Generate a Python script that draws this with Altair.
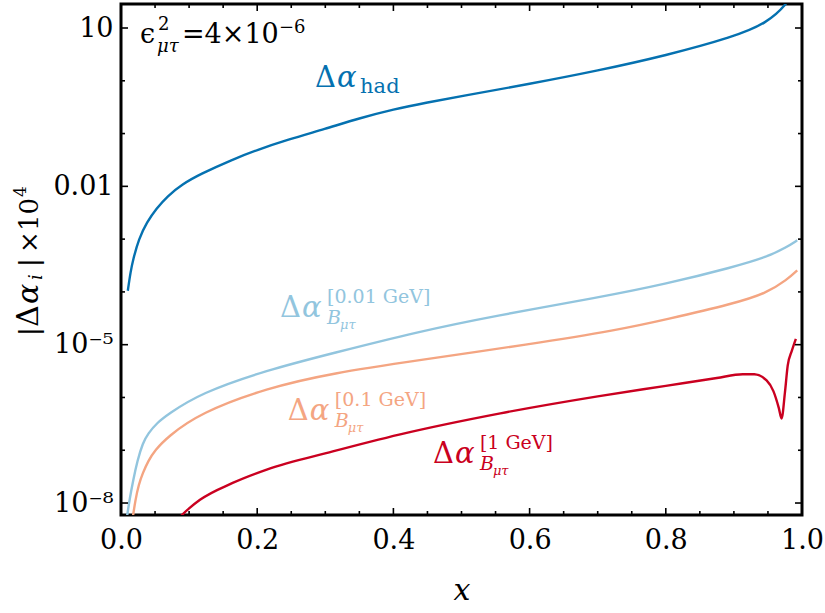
import altair as alt
import pandas as pd

# ---------------- data ----------------
series_names = ["had", "0.01 GeV", "0.1 GeV", "1 GeV"]
series_colors = ["#0571b0", "#92c5de", "#f4a582", "#ca0020"]

x_had = [0.010, 0.014, 0.018, 0.026, 0.038, 0.052, 0.068, 0.090, 0.116, 0.164, 0.200, 0.244,
         0.300, 0.350, 0.400, 0.450, 0.500, 0.600, 0.700, 0.800, 0.900, 0.948, 0.978, 0.990]
y_had = [1.05e-4, 2.4e-4, 4.2e-4, 1.0e-3, 2.1e-3, 3.8e-3, 6.5e-3, 0.011, 0.017, 0.0324, 0.049,
         0.076, 0.123, 0.195, 0.288, 0.39, 0.513, 0.87, 1.55, 3.0, 6.8, 12.3, 28.2, 56.0]

x_b001 = [0.0083, 0.013, 0.018, 0.024, 0.032, 0.040, 0.053, 0.068, 0.116, 0.214, 0.311, 0.434,
          0.550, 0.703, 0.800, 0.899, 0.949, 0.978, 0.993]
y_b001 = [5.0e-9, 1.26e-8, 2.75e-8, 6.3e-8, 1.38e-7, 2.1e-7, 3.3e-7, 4.7e-7, 1.2e-6, 3.3e-6,
          6.9e-6, 1.74e-5, 3.55e-5, 7.9e-5, 1.41e-4, 2.95e-4, 4.6e-4, 7.1e-4, 9.5e-4]

x_b01 = [0.017, 0.021, 0.026, 0.032, 0.040, 0.050, 0.068, 0.116, 0.214, 0.311, 0.434, 0.600,
         0.730, 0.800, 0.900, 0.948, 0.978, 0.993]
y_b01 = [5.0e-9, 1.12e-8, 2.24e-8, 3.7e-8, 6.3e-8, 1.0e-7, 1.78e-7, 5.1e-7, 1.51e-6, 2.9e-6,
         5.0e-6, 1.02e-5, 1.9e-5, 3.0e-5, 6.0e-5, 9.5e-5, 1.7e-4, 2.57e-4]

x_b1 = [0.080, 0.100, 0.116, 0.164, 0.214, 0.311, 0.410, 0.557, 0.700, 0.800,
        0.875, 0.913, 0.930, 0.948, 0.958, 0.966, 0.970, 0.975, 0.979, 0.985, 0.991]
y_b1 = [4.5e-9, 7.9e-9, 1.15e-8, 2.4e-8, 4.3e-8, 9.5e-8, 2.0e-7, 5.0e-7, 1.05e-6, 1.66e-6,
        2.34e-6, 2.75e-6, 2.75e-6, 2.1e-6, 1.32e-6, 6.3e-7, 4.0e-7, 1.26e-6, 4.0e-6, 7.6e-6, 1.29e-5]

x_tick_labels = [0.0, 0.2, 0.4, 0.6, 0.8, 1.0]
x_minor_ticks = [0.05, 0.1, 0.15, 0.25, 0.3, 0.35, 0.45, 0.5, 0.55, 0.65, 0.7, 0.75,
                 0.85, 0.9, 0.95]
y_tick_labels = [10, 1e-2, 1e-5, 1e-8]
y_minor_ticks = [1, 0.1, 1e-3, 1e-4, 1e-6, 1e-7]

# ---------------- build tables ----------------
rows = []
for name, xs, ys in zip(series_names,
                        [x_had, x_b001, x_b01, x_b1],
                        [y_had, y_b001, y_b01, y_b1]):
    for xv, yv in zip(xs, ys):
        rows.append({"series": name, "x": xv, "y": yv})
df = pd.DataFrame(rows)

W, H = 681, 511
FONT = "DejaVu Serif"

xscale = alt.Scale(domain=[0, 1], nice=False, zero=False)
yscale = alt.Scale(type="log", domain=[5.93e-9, 28.5], nice=False)

x_axis = alt.Axis(values=x_tick_labels, format=".1f", title="x", ticks=False, domain=False,
                  grid=False, labelFont=FONT, labelFontSize=27, labelColor="black",
                  labelPadding=12, labelFlush=False, labelOverlap=False,
                  titleFont=FONT, titleFontSize=30, titleFontStyle="italic",
                  titleFontWeight="normal", titleColor="black", titlePadding=22)
y_axis = alt.Axis(values=y_tick_labels, title=None, ticks=False, domain=False, grid=False,
                  labelFont=FONT, labelFontSize=27, labelColor="black", labelPadding=8,
                  labelFlush=False, labelOverlap=False,
                  labelExpr="datum.value > 1 ? '10' : datum.value > 0.001 ? '0.01' : "
                            "datum.value > 1e-6 ? '10⁻⁵' : '10⁻⁸'")


def X(field="x"):
    return alt.X(f"{field}:Q", scale=xscale, axis=x_axis)


def Y(field="y"):
    return alt.Y(f"{field}:Q", scale=yscale, axis=y_axis)


color_enc = alt.Color("series:N", scale=alt.Scale(domain=series_names, range=series_colors),
                      legend=None)

smooth_lines = alt.Chart(df).transform_filter(
    alt.datum.series != "1 GeV"
).mark_line(strokeWidth=2.4, clip=True, interpolate="basis").encode(
    x=X(), y=Y(), color=color_enc)

red_line = alt.Chart(df).transform_filter(
    alt.datum.series == "1 GeV"
).mark_line(strokeWidth=2.4, clip=True, interpolate="monotone").encode(
    x=X(), y=Y(), color=color_enc)

layers = [smooth_lines, red_line]


def xtick_layer(vals, y0, y1):
    return alt.Chart(pd.DataFrame({"x": vals})).mark_rule(color="black", strokeWidth=1.6).encode(
        x=X(), y=alt.value(y0), y2=alt.value(y1))


def ytick_layer(vals, x0, x1):
    return alt.Chart(pd.DataFrame({"y": vals})).mark_rule(color="black", strokeWidth=1.6).encode(
        y=Y(), x=alt.value(x0), x2=alt.value(x1))


layers += [
    xtick_layer(x_tick_labels, H, H - 7), xtick_layer(x_minor_ticks, H, H - 4),
    xtick_layer(x_tick_labels, 0, 7), xtick_layer(x_minor_ticks, 0, 4),
    ytick_layer(y_tick_labels, 0, 7), ytick_layer(y_minor_ticks, 0, 4),
    ytick_layer(y_tick_labels, W, W - 7), ytick_layer(y_minor_ticks, W, W - 4),
]

# ---------------- annotations (anchor in data units, pieces offset in px) ----------------
sup_pieces = lambda s: [("Δ", 29, False, 0, 0), ("α", 29, True, 22, 0), (s, 19, False, 47, -14),
                        ("B", 19, True, 47, 7), ("μτ", 13, True, 60, 12)]
annotations = [
    ((0.285, 0.762), "#0571b0", [("Δ", 29, False, 0, 0), ("α", 29, True, 22, 0),
                                 ("had", 21, False, 45, 6)]),
    ((0.2335, 3.34e-5), "#92c5de", sup_pieces("[0.01 GeV]")),
    ((0.245, 3.74e-7), "#f4a582", sup_pieces("[0.1 GeV]")),
    ((0.458, 5.73e-8), "#ca0020", sup_pieces("[1 GeV]")),
    ((0.0279, 5.2), "black", [("ϵ", 27, False, 0, 0), ("2", 18, False, 18, -13),
                              ("μτ", 18, True, 17, 9), ("=4×10", 27, False, 42, 0),
                              ("−6", 18, False, 139, -10)]),
]
for (ax, ay), col, pieces in annotations:
    for txt, size, ital, dx, dy in pieces:
        layers.append(
            alt.Chart(pd.DataFrame({"x": [ax], "y": [ay], "t": [txt]})).mark_text(
                font=FONT, fontSize=size, fontStyle="italic" if ital else "normal",
                color=col, align="left", baseline="alphabetic", dx=dx, dy=dy
            ).encode(x=X(), y=Y(), text="t:N")
        )

# ---------------- rotated y title pieces (pixel positions relative to plot origin) ----------------
title_pieces = [("|", 26, False, -83, 332), ("Δ", 30, False, -83, 323), ("α", 30, True, -83, 300),
                ("i", 18, True, -79, 276), ("|", 26, False, -83, 263), ("×", 26, False, -83, 249),
                ("10", 26, False, -83, 227), ("4", 17, False, -95, 193)]
for txt, size, ital, px, py in title_pieces:
    layers.append(
        alt.Chart(pd.DataFrame({"t": [txt]})).mark_text(
            font=FONT, fontSize=size, fontStyle="italic" if ital else "normal",
            color="black", align="left", baseline="alphabetic", angle=270
        ).encode(x=alt.value(px), y=alt.value(py), text="t:N")
    )

chart = alt.layer(*layers).properties(
    width=W, height=H,
    autosize=alt.AutoSizeParams(type="none"),
    padding={"left": 121, "top": 4, "right": 23, "bottom": 98},
    background="white",
).configure_view(stroke="black", strokeWidth=3)

chart.save("out.html", embed_options={"renderer": "svg", "actions": False})
